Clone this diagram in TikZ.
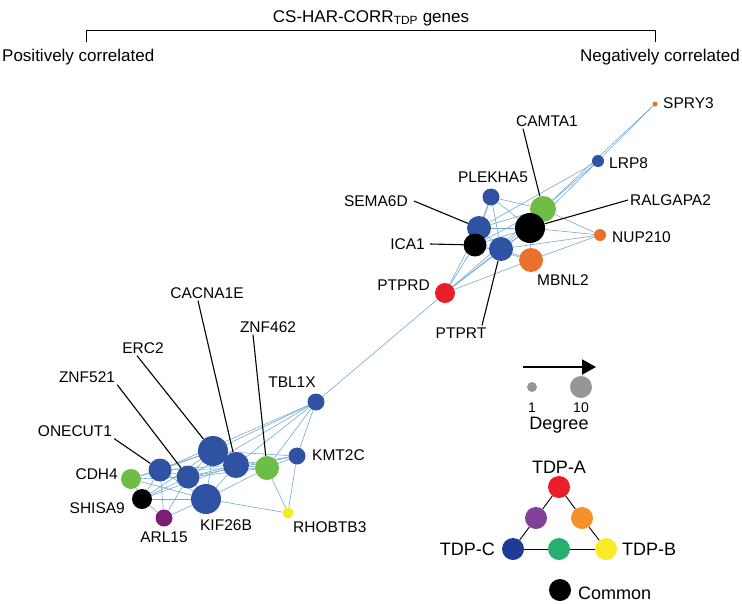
\documentclass[tikz,border=0pt]{standalone}
\usepackage{fontspec}
\setmainfont{Liberation Sans}
\usepackage{xcolor}
\usetikzlibrary{arrows.meta}

\definecolor{gblue}{RGB}{47,82,162}
\definecolor{ggreen}{RGB}{110,190,70}
\definecolor{gorange}{RGB}{234,113,42}
\definecolor{gred}{RGB}{232,30,40}
\definecolor{gpurple}{RGB}{122,30,120}
\definecolor{gyellow}{RGB}{245,235,30}
\definecolor{ggray}{RGB}{150,150,150}
\definecolor{edgeblue}{RGB}{115,170,212}
\definecolor{tdpred}{RGB}{235,30,40}
\definecolor{tdppurple}{RGB}{128,65,155}
\definecolor{tdporange}{RGB}{245,145,40}
\definecolor{tdpblue}{RGB}{30,60,150}
\definecolor{tdpgreen}{RGB}{40,175,110}
\definecolor{tdpyellow}{RGB}{250,235,40}

\pgfdeclarelayer{bg}
\pgfsetlayers{bg,main}

\begin{document}
\begin{tikzpicture}[
    x=1pt, y=-1pt,
    gene/.style={circle, inner sep=0pt, minimum size=#1},
    lbl/.style={inner sep=2pt, font=\fontsize{15.5}{18}\selectfont},
    legtext/.style={inner sep=2pt, font=\fontsize{18}{21}\selectfont},
    small/.style={inner sep=2pt, font=\fontsize{14}{16}\selectfont},
    head/.style={inner sep=2pt, font=\fontsize{17}{20}\selectfont},
    edge/.style={draw=edgeblue, line width=0.6pt},
    lead/.style={draw=black, line width=1.1pt},
    tri/.style={draw=black, line width=0.9pt},
    degarrow/.style={draw=black, line width=2pt, -{Triangle[length=14pt, width=15pt]}}
]
    \useasboundingbox (0,0) rectangle (742,603);

    % Heading
    \node[head] (title) at (371,18) {CS-HAR-CORR\textsubscript{TDP} genes};
    \draw[line width=0.9pt] (86,42) -- (86,30) -- (655,30) -- (655,42);
    \node[head, anchor=west] (tPos) at (0,57) {Positively correlated};
    \node[head, anchor=east] (tNeg) at (742,57) {Negatively correlated};

    % Positively correlated module
    \node[gene=17pt, fill=gblue] (TBL1X) at (316,402) {};
    \node[gene=17pt, fill=gblue] (KMT2C) at (297,456) {};
    \node[gene=30pt, fill=gblue] (ERC2) at (213,451) {};
    \node[gene=26pt, fill=gblue] (CACNA1E) at (236,465) {};
    \node[gene=24pt, fill=ggreen] (ZNF462) at (267,468) {};
    \node[gene=23pt, fill=gblue] (ONECUT1) at (160,470) {};
    \node[gene=23pt, fill=gblue] (ZNF521) at (188,477) {};
    \node[gene=20pt, fill=ggreen] (CDH4) at (131,479) {};
    \node[gene=20pt, fill=black] (SHISA9) at (142,499) {};
    \node[gene=30pt, fill=gblue] (KIF26B) at (206,499) {};
    \node[gene=17pt, fill=gpurple] (ARL15) at (164,518) {};
    \node[gene=11pt, fill=gyellow] (RHOBTB3) at (288,513) {};

    % Negatively correlated module
    \node[gene=5pt, fill=gorange] (SPRY3) at (655,104) {};
    \node[gene=12pt, fill=gblue] (LRP8) at (598,161) {};
    \node[gene=17pt, fill=gblue] (PLEKHA5) at (491,197) {};
    \node[gene=26pt, fill=ggreen] (CAMTA1) at (543,209) {};
    \node[gene=24pt, fill=gblue] (SEMA6D) at (479,228) {};
    \node[gene=30pt, fill=black] (RALGAPA2) at (530,228) {};
    \node[gene=12pt, fill=gorange] (NUP210) at (600,235) {};
    \node[gene=23pt, fill=black] (ICA1) at (475,245) {};
    \node[gene=24pt, fill=gblue] (PTPRT) at (501,249) {};
    \node[gene=24pt, fill=gorange] (MBNL2) at (531,260) {};
    \node[gene=20pt, fill=gred] (PTPRD) at (445,293) {};

    % Co-expression edges
    \begin{pgfonlayer}{bg}
        \foreach \a/\b in {TBL1X/ERC2, TBL1X/CACNA1E, TBL1X/ZNF462, TBL1X/KMT2C,
            TBL1X/ONECUT1, TBL1X/ZNF521, TBL1X/PTPRD,
            KMT2C/ZNF462, KMT2C/CACNA1E, KMT2C/ERC2, KMT2C/RHOBTB3, KMT2C/ZNF521,
            ZNF462/RHOBTB3, ZNF462/CACNA1E, ZNF462/ERC2, ZNF462/KIF26B,
            ZNF462/ONECUT1, ZNF462/ZNF521,
            KIF26B/RHOBTB3, KIF26B/ERC2, KIF26B/CACNA1E, KIF26B/ZNF521,
            KIF26B/ONECUT1, KIF26B/SHISA9, KIF26B/ARL15, KIF26B/CDH4,
            ERC2/CACNA1E, ERC2/ONECUT1, ERC2/ZNF521, ERC2/CDH4, ERC2/SHISA9,
            CACNA1E/ZNF521, CACNA1E/ONECUT1, CACNA1E/SHISA9,
            ONECUT1/ZNF521, ONECUT1/CDH4, ONECUT1/SHISA9, ONECUT1/ARL15,
            ZNF521/CDH4, ZNF521/SHISA9, ZNF521/ARL15,
            CDH4/SHISA9, SHISA9/ARL15}
            \draw[edge] (\a) -- (\b);
        \foreach \a/\b in {SPRY3/LRP8, SPRY3/CAMTA1, LRP8/CAMTA1, LRP8/RALGAPA2, LRP8/SEMA6D,
            NUP210/CAMTA1, NUP210/RALGAPA2, NUP210/MBNL2, NUP210/PTPRT,
            PLEKHA5/CAMTA1, PLEKHA5/RALGAPA2, PLEKHA5/SEMA6D, PLEKHA5/ICA1, PLEKHA5/PTPRT,
            CAMTA1/SEMA6D, CAMTA1/ICA1, CAMTA1/PTPRT, CAMTA1/PTPRD,
            RALGAPA2/SEMA6D, RALGAPA2/ICA1, RALGAPA2/PTPRT, RALGAPA2/MBNL2, RALGAPA2/PTPRD,
            SEMA6D/PTPRT, SEMA6D/PTPRD, SEMA6D/ICA1, ICA1/PTPRD, ICA1/PTPRT, ICA1/MBNL2,
            PTPRT/PTPRD, PTPRT/MBNL2, MBNL2/PTPRD}
            \draw[edge] (\a) -- (\b);
    \end{pgfonlayer}

    % Gene labels
    \node[lbl] (tCACNA1E) at (207,293) {CACNA1E};
    \node[lbl] (tZNF462) at (268,327) {ZNF462};
    \node[lbl] (tERC2) at (143,348) {ERC2};
    \node[lbl] (tZNF521) at (87,377) {ZNF521};
    \node[lbl] (tONECUT1) at (75,431) {ONECUT1};
    \node[lbl] (tTBL1X) at (292,382) {TBL1X};
    \node[lbl, anchor=west] (tKMT2C) at (310,455) {KMT2C};
    \node[lbl, anchor=east] (tCDH4) at (120,474) {CDH4};
    \node[lbl, anchor=east] (tSHISA9) at (127,508) {SHISA9};
    \node[lbl] (tKIF26B) at (226,525) {KIF26B};
    \node[lbl] (tARL15) at (164,537) {ARL15};
    \node[lbl, anchor=west] (tRHOBTB3) at (291,527) {RHOBTB3};

    \node[lbl, anchor=west] (tSPRY3) at (661,103) {SPRY3};
    \node[lbl] (tCAMTA1) at (547,121) {CAMTA1};
    \node[lbl, anchor=west] (tLRP8) at (607,163) {LRP8};
    \node[lbl] (tPLEKHA5) at (493,177) {PLEKHA5};
    \node[lbl, anchor=west] (tRALGAPA2) at (628,200) {RALGAPA2};
    \node[lbl, anchor=west] (tNUP210) at (610,237) {NUP210};
    \node[lbl] (tMBNL2) at (563,280) {MBNL2};
    \node[lbl, anchor=east] (tSEMA6D) at (410,201) {SEMA6D};
    \node[lbl, anchor=east] (tICA1) at (427,244) {ICA1};
    \node[lbl, anchor=east] (tPTPRD) at (432,285) {PTPRD};
    \node[lbl] (tPTPRT) at (461,333) {PTPRT};

    % Leader lines
    \draw[lead] ([xshift=-9pt]tCACNA1E.south) -- (CACNA1E);
    \draw[lead] ([xshift=-15pt]tZNF462.south) -- (ZNF462);
    \draw[lead] ([xshift=-6pt]tERC2.south) -- (ERC2);
    \draw[lead] (tZNF521.south east) -- (ZNF521);
    \draw[lead] (tONECUT1.south east) -- (ONECUT1);
    \draw[lead] ([xshift=-24pt]tCAMTA1.south) -- (CAMTA1);
    \draw[lead] (tRALGAPA2.west) -- (RALGAPA2);
    \draw[lead] ([xshift=4pt]tSEMA6D.east) -- (SEMA6D);
    \draw[lead] ([xshift=3pt]tICA1.east) -- (ICA1);
    \draw[lead] ([xshift=21pt]tPTPRT.north) -- (PTPRT);

    % Degree legend
    \coordinate (arrS) at (523,367);
    \coordinate (arrE) at (596,367);
    \draw[degarrow] (arrS) -- (arrE);
    \node[gene=10pt, fill=ggray] (deg1) at (532,387) {};
    \node[gene=22pt, fill=ggray] (deg10) at (581,387) {};
    \node[small] (tdeg1) at (532,408) {1};
    \node[small] (tdeg10) at (581,408) {10};
    \node[legtext] (tDegree) at (559,425) {Degree};

    % TDP subtype legend
    \node[legtext] (tTDPA) at (559,467) {TDP-A};
    \node[gene=22pt, fill=tdpred] (tdpA) at (559,487) {};
    \node[gene=22pt, fill=tdppurple] (tdpAC) at (536,518) {};
    \node[gene=22pt, fill=tdporange] (tdpAB) at (582,518) {};
    \node[gene=22pt, fill=tdpblue] (tdpC) at (513,549) {};
    \node[gene=22pt, fill=tdpgreen] (tdpBC) at (559,549) {};
    \node[gene=22pt, fill=tdpyellow] (tdpB) at (606,549) {};
    \draw[tri] (tdpA) -- (tdpAC);
    \draw[tri] (tdpAC) -- (tdpC);
    \draw[tri] (tdpA) -- (tdpAB);
    \draw[tri] (tdpAB) -- (tdpB);
    \draw[tri] (tdpC) -- (tdpBC);
    \draw[tri] (tdpBC) -- (tdpB);
    \node[legtext, anchor=east] (tTDPC) at (497,549) {TDP-C};
    \node[legtext, anchor=west] (tTDPB) at (620,549) {TDP-B};
    \node[gene=22pt, fill=black] (common) at (560,590) {};
    \node[legtext, anchor=west] (tCommon) at (576,593) {Common};
\end{tikzpicture}
\end{document}
